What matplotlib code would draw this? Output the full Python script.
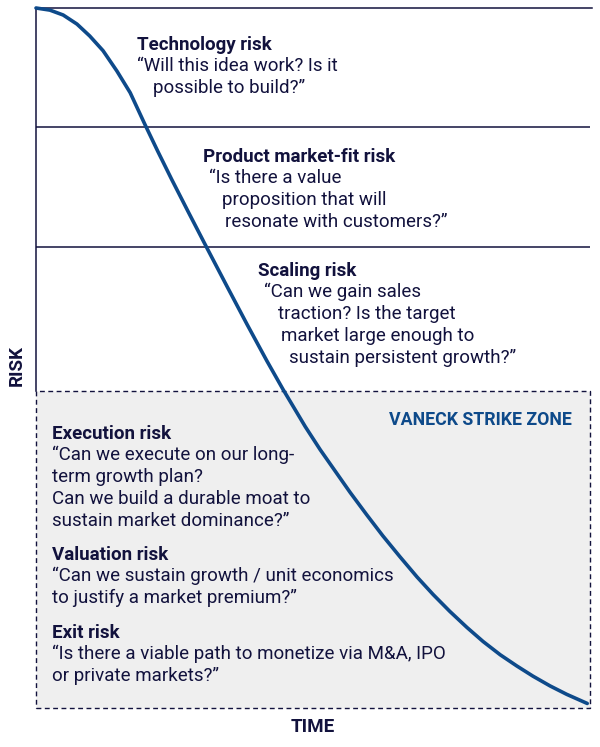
import matplotlib
matplotlib.use("Agg")
import matplotlib.pyplot as plt
from matplotlib.patches import Rectangle

plt.rcParams['font.family'] = ['Roboto', 'DejaVu Sans']

# ---- data ----
time_pts = [0, 2.5, 4.9, 7.4, 9.7, 12.1, 14.6, 17.0, 19.7, 22.0, 24.5, 27.5,
            30.9, 34.5, 38.1, 41.7, 44.6, 48.6, 51.3, 53.6, 56.7, 59.7, 62.6,
            65.7, 68.8, 71.7, 74.7, 77.8, 80.7, 83.8, 86.8, 89.7, 92.8, 95.8, 99.5]
risk_pts = [100, 99.7, 99.0, 97.7, 96.0, 93.9, 91.0, 87.9, 83.3, 79.5, 75.5, 70.85,
            65.65, 60.2, 54.8, 49.55, 45.5, 40.2, 36.9, 34.3, 30.8, 27.6, 24.6,
            21.6, 18.7, 16.2, 13.8, 11.5, 9.5, 7.6, 6.0, 4.55, 3.15, 1.95, 0.65]
band_edges = [83.0, 65.9]
strike_zone_top = 45.3

risk_titles = ["Technology risk", "Product market-fit risk", "Scaling risk",
               "Execution risk", "Valuation risk", "Exit risk"]
risk_quotes = [
    ["\u201cWill this idea work? Is it", "possible to build?\u201d"],
    ["\u201cIs there a value", "proposition that will", "resonate with customers?\u201d"],
    ["\u201cCan we gain sales", "traction? Is the target", "market large enough to",
     "sustain persistent growth?\u201d"],
    ["\u201cCan we execute on our long-", "term growth plan?",
     "Can we build a durable moat to", "sustain market dominance?\u201d"],
    ["\u201cCan we sustain growth / unit economics", "to justify a market premium?\u201d"],
    ["\u201cIs there a viable path to monetize via M&A, IPO", "or private markets?\u201d"],
]
zone_label = "VANECK STRIKE ZONE"
x_label = "TIME"
y_label = "RISK"

# ---- style ----
NAVY = "#12123d"
BLUE = "#0e4a8a"
GREY = "#efefef"
W, H = 600, 747

fig = plt.figure(figsize=(W / 100, H / 100), dpi=100)
ax = fig.add_axes([36 / W, 1 - 708 / H, 554 / W, 700 / H])
ax.set_xlim(0, 100)
ax.set_ylim(0, 100)
for s in ax.spines.values():
    s.set_visible(False)
ax.set_xticks([])
ax.set_yticks([])

# strike zone box
ax.add_patch(Rectangle((0, 0), 100, strike_zone_top, facecolor=GREY,
                       edgecolor=NAVY, lw=1.0, linestyle=(0, (3.5, 2.5)),
                       clip_on=False, zorder=1))
# frame lines
ax.plot([0, 100.4], [100, 100], color=NAVY, lw=1.1, clip_on=False, zorder=2)
ax.plot([0, 0], [strike_zone_top, 100], color=NAVY, lw=1.1, clip_on=False, zorder=2)
ax.hlines(band_edges, 0, 100, color=NAVY, lw=1.1, zorder=2)

# curve
ax.plot(time_pts, risk_pts, color=BLUE, lw=2.6, solid_capstyle='round',
        solid_joinstyle='round', clip_on=False, zorder=5)

# texts (pixel positions)
FS = 13.5
layout = [
    (137, 45, [137, 153]),
    (203, 157, [209, 222, 225]),
    (258, 271, [264, 278, 281, 289]),
    (52, 434, [52, 52, 52, 52]),
    (52, 555, [52, 52]),
    (52, 633, [52, 52]),
]
for title, quotes, (tx, ty, qxs) in zip(risk_titles, risk_quotes, layout):
    fig.text(tx / W, 1 - ty / H, title, fontsize=FS, fontweight='bold',
             color=NAVY, va='center', ha='left')
    for i, (q, qx) in enumerate(zip(quotes, qxs)):
        qy = ty + 21 + 22 * i
        fig.text(qx / W, 1 - qy / H, q, fontsize=FS, color=NAVY,
                 va='center', ha='left')

fig.text(572 / W, 1 - 420 / H, zone_label, fontsize=12.8, fontweight='bold',
         color=BLUE, va='center', ha='right')
fig.text(313 / W, 1 - 727 / H, x_label, fontsize=13.5, fontweight='bold',
         color=NAVY, va='center', ha='center')
fig.text(17 / W, 1 - 366 / H, y_label, fontsize=13.5, fontweight='bold',
         color=NAVY, va='center', ha='center', rotation=90)

fig.savefig("out.png", dpi=100, facecolor='white')
